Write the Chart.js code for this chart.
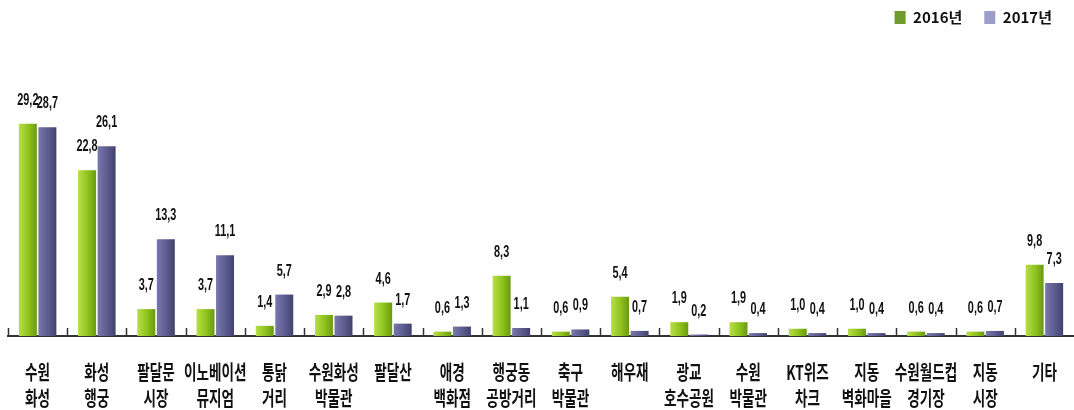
<!DOCTYPE html>
<html lang="ko">
<head>
<meta charset="utf-8">
<script src="https://cdn.jsdelivr.net/npm/chart.js@4/dist/chart.umd.min.js"></script>
<style>
  html, body { margin: 0; padding: 0; background: #fff; }
  #wrap { width: 1074px; height: 410px; }
</style>
</head>
<body>
<div id="wrap"><canvas id="visitChart" width="1074" height="410"></canvas></div>
<script>
const places = [
  ['수원', '화성'], ['화성', '행궁'], ['팔달문', '시장'], ['이노베이션', '뮤지엄'],
  ['통닭', '거리'], ['수원화성', '박물관'], ['팔달산'], ['애경', '백화점'],
  ['행궁동', '공방거리'], ['축구', '박물관'], ['해우재'], ['광교', '호수공원'],
  ['수원', '박물관'], ['KT위즈', '차크'], ['지동', '벽화마을'], ['수원월드컵', '경기장'],
  ['지동', '시장'], ['기타'],
];
const years = ['2016년', '2017년'];
const visits2016 = [29.2, 22.8, 3.7, 3.7, 1.4, 2.9, 4.6, 0.6, 8.3, 0.6, 5.4, 1.9, 1.9, 1.0, 1.0, 0.6, 0.6, 9.8];
const visits2017 = [28.7, 26.1, 13.3, 11.1, 5.7, 2.8, 1.7, 1.3, 1.1, 0.9, 0.7, 0.2, 0.4, 0.4, 0.4, 0.4, 0.7, 7.3];

const CAT_PCT = 0.66;
const BAR_PCT = 0.92;
const greenStops  = ['#b8df48', '#8ec21c', '#6a9914'];
const purpleStops = ['#7878ac', '#5b5b90', '#42426c'];
const legendColors = ['#6f9a2c', '#9d9dc9'];

// horizontal shading across each bar, positioned from the x scale
function barFill(stops) {
  return ctx => {
    const chart = ctx.chart;
    const xs = chart.scales.x;
    if (ctx.type !== 'data' || !xs || !chart.chartArea) return stops[1];
    const slot = xs.width / places.length * CAT_PCT / 2;
    const cx = xs.getPixelForValue(ctx.dataIndex) + (ctx.datasetIndex - 0.5) * slot;
    const half = slot * BAR_PCT / 2;
    const g = chart.ctx.createLinearGradient(cx - half, 0, cx + half, 0);
    g.addColorStop(0, stops[0]);
    g.addColorStop(0.55, stops[1]);
    g.addColorStop(1, stops[2]);
    return g;
  };
}

const fmt = v => v.toFixed(1).replace('.', ',');

const valueLabels = {
  id: 'valueLabels',
  afterDatasetsDraw(chart) {
    const c = chart.ctx;
    c.save();
    c.font = 'bold 17px "Liberation Sans"';
    c.fillStyle = '#111';
    c.textAlign = 'center';
    c.textBaseline = 'alphabetic';
    chart.data.datasets.forEach((ds, di) => {
      chart.getDatasetMeta(di).data.forEach((bar, i) => {
        c.save();
        c.translate(bar.x, bar.y - 19);
        c.scale(0.64, 1);
        c.fillText(fmt(ds.data[i]), 0, 0);
        c.restore();
      });
    });
    c.restore();
  },
};

// short upward ticks between categories plus the two-line place names
const axisDecor = {
  id: 'axisDecor',
  afterDraw(chart) {
    const xs = chart.scales.x;
    const c = chart.ctx;
    const catW = xs.width / places.length;
    const base = chart.chartArea.bottom;
    c.save();
    c.strokeStyle = '#333';
    c.lineWidth = 1.5;
    places.forEach((_, i) => {
      const x = Math.round(xs.getPixelForValue(i) - catW / 2) + 0.5;
      c.beginPath();
      c.moveTo(x, base - 8);
      c.lineTo(x, base);
      c.stroke();
    });
    c.font = 'bold 20px "Noto Sans CJK KR"';
    c.fillStyle = '#111';
    c.textAlign = 'center';
    c.textBaseline = 'middle';
    places.forEach((lines, i) => {
      lines.forEach((t, k) => {
        c.save();
        c.translate(xs.getPixelForValue(i), base + 36 + k * 26);
        c.scale(0.68, 1);
        c.fillText(t, 0, 0);
        c.restore();
      });
    });
    c.restore();
  },
};

new Chart(document.getElementById('visitChart'), {
  type: 'bar',
  data: {
    labels: places,
    datasets: [
      { label: years[0], data: visits2016, backgroundColor: barFill(greenStops) },
      { label: years[1], data: visits2017, backgroundColor: barFill(purpleStops) },
    ],
  },
  options: {
    responsive: false,
    animation: false,
    categoryPercentage: CAT_PCT,
    barPercentage: BAR_PCT,
    layout: { padding: { left: 8, right: 0, top: -12, bottom: 66 } },
    plugins: {
      tooltip: { enabled: false },
      legend: {
        position: 'top',
        align: 'end',
        labels: {
          boxWidth: 11,
          boxHeight: 13,
          padding: 22,
          color: '#111',
          font: { family: '"Noto Sans CJK KR"', size: 15, weight: 'bold' },
          generateLabels: chart => chart.data.datasets.map((ds, i) => ({
            text: ds.label,
            fillStyle: legendColors[i],
            strokeStyle: legendColors[i],
            lineWidth: 0,
            fontColor: '#111',
            hidden: false,
            datasetIndex: i,
          })),
        },
      },
    },
    scales: {
      x: {
        grid: { display: false },
        border: { display: true, color: '#333', width: 2 },
        ticks: { display: false },
      },
      y: {
        display: false,
        min: 0,
        max: 41.4,
      },
    },
  },
  plugins: [valueLabels, axisDecor],
});
</script>
</body>
</html>
